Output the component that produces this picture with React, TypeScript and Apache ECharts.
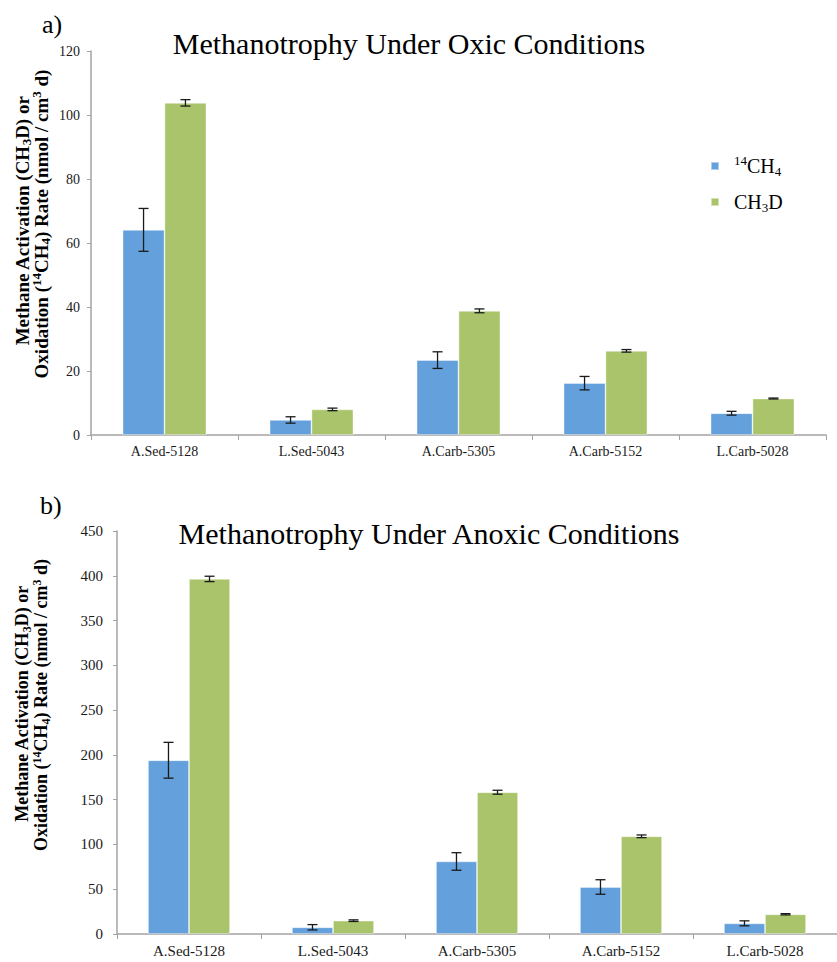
import React, { useEffect, useRef } from 'react';
import * as echarts from 'echarts';

const FONT = "'Liberation Serif', 'Times New Roman', serif";

const categories = ['A.Sed-5128', 'L.Sed-5043', 'A.Carb-5305', 'A.Carb-5152', 'L.Carb-5028'];
const seriesNames = ['14CH4', 'CH3D'];

// Panel a) oxic
const oxic14CH4 = [64.1, 4.7, 23.4, 16.2, 6.8];
const oxic14CH4Err = [6.7, 1.0, 2.6, 2.1, 0.6];
const oxicCH3D = [103.8, 8.0, 38.8, 26.3, 11.4];
const oxicCH3DErr = [1.0, 0.4, 0.6, 0.4, 0.15];

// Panel b) anoxic
const anoxic14CH4 = [194, 7.5, 81, 52.5, 11.9];
const anoxic14CH4Err = [20, 3.0, 9.8, 8.1, 2.8];
const anoxicCH3D = [396.5, 14.9, 158.3, 109.1, 22.0];
const anoxicCH3DErr = [3.0, 0.9, 2.2, 1.5, 0.7];

const oxicTicks = { min: 0, max: 120, interval: 20 };
const anoxicTicks = { min: 0, max: 450, interval: 50 };

const GAP = 0.43;
const BLUE = '#63a0dc';
const GREEN = '#a9c46a';
const AXIS = '#a3a3a3';

const makeErr = (side: number) => (params: any, api: any) => {
  const ci = api.value(0);
  const v = api.value(1);
  const e = api.value(2);
  const c = api.coord([ci, v]);
  const band = api.size([1, 0])[0];
  const bw = (band * (1 - GAP)) / 2;
  const x = c[0] + (side * bw) / 2;
  const yt = api.coord([ci, v + e])[1];
  const yb = api.coord([ci, v - e])[1];
  const cap = 5;
  const style = { stroke: '#1a1a1a', lineWidth: 1.3 };
  return {
    type: 'group',
    children: [
      { type: 'line', shape: { x1: x, y1: yt, x2: x, y2: yb }, style },
      { type: 'line', shape: { x1: x - cap, y1: yt, x2: x + cap, y2: yt }, style },
      { type: 'line', shape: { x1: x - cap, y1: yb, x2: x + cap, y2: yb }, style },
    ],
  };
};

const richY = (fs: number) => ({
  n: { fontFamily: FONT, fontSize: fs, fontWeight: 'bold', lineHeight: fs + 3, fill: '#000' },
  sub: { fontFamily: FONT, fontSize: Math.round(fs * 0.66), fontWeight: 'bold', lineHeight: Math.round(fs * 0.66), verticalAlign: 'bottom', fill: '#000' },
  sup: { fontFamily: FONT, fontSize: Math.round(fs * 0.66), fontWeight: 'bold', lineHeight: Math.round(fs * 0.66), verticalAlign: 'top', fill: '#000' },
});

const yLine1 = '{n|Methane Activation (CH}{sub|3}{n|D) or}';
const yLine2 = '{n|Oxidation (}{sup|14}{n|CH}{sub|4}{n|) Rate (nmol / cm}{sup|3}{n| d)}';

const yNameText = (text: string, x: number, y: number, fs: number) => ({
  type: 'text',
  x,
  y,
  rotation: Math.PI / 2,
  style: { text, rich: richY(fs), textAlign: 'center', textVerticalAlign: 'middle' },
});

export default function App() {
  const ref = useRef<HTMLDivElement>(null);
  useEffect(() => {
    const chart = echarts.init(ref.current!, null, { renderer: 'svg' });
    const xAxisCommon = {
      type: 'category',
      data: categories,
      axisLine: { lineStyle: { color: AXIS, width: 1.5 } },
      axisTick: { show: true, length: 5, lineStyle: { color: AXIS } },
      axisLabel: { fontFamily: FONT, color: '#1a1a1a', margin: 9 },
    };
    const yAxisCommon = {
      type: 'value',
      axisLine: { show: true, lineStyle: { color: AXIS, width: 1.5 } },
      axisTick: { show: true, length: 4, lineStyle: { color: AXIS } },
      splitLine: { show: false },
      axisLabel: { fontFamily: FONT, color: '#1a1a1a' },
    };
    const barCommon = {
      type: 'bar',
      barGap: '0%',
      barCategoryGap: GAP * 100 + '%',
    };
    const barStyle = (color: string) => ({ color, borderColor: 'rgba(255,255,255,0.5)', borderWidth: 0.8 });
    const option: any = {
      animation: false,
      backgroundColor: '#fff',
      legend: {
        data: seriesNames,
        orient: 'vertical',
        left: 705,
        top: 149,
        itemWidth: 8,
        itemHeight: 8,
        itemGap: 14,
        icon: 'rect',
        formatter: (name: string) =>
          name === '14CH4' ? '{sup|14}{n|CH}{sub|4}' : '{n|CH}{sub|3}{n|D}',
        textStyle: {
          padding: [0, 0, 0, 10],
          rich: {
            n: { fontFamily: FONT, fontSize: 20, lineHeight: 24, color: '#000' },
            sub: { fontFamily: FONT, fontSize: 13, lineHeight: 13, verticalAlign: 'bottom', color: '#000' },
            sup: { fontFamily: FONT, fontSize: 13, lineHeight: 13, verticalAlign: 'top', color: '#000' },
          },
        },
      },
      grid: [
        { left: 91, top: 51, right: 11, bottom: 962 - 435 },
        { left: 117, top: 531, right: -6.5, bottom: 962 - 934 },
      ],
      xAxis: [
        { ...xAxisCommon, gridIndex: 0, axisLabel: { ...xAxisCommon.axisLabel, fontSize: 14 } },
        { ...xAxisCommon, gridIndex: 1, axisLabel: { ...xAxisCommon.axisLabel, fontSize: 15 } },
      ],
      yAxis: [
        { ...yAxisCommon, gridIndex: 0, ...oxicTicks, axisLabel: { ...yAxisCommon.axisLabel, fontSize: 14, margin: 11 } },
        { ...yAxisCommon, gridIndex: 1, ...anoxicTicks, axisLabel: { ...yAxisCommon.axisLabel, fontSize: 15, margin: 14 } },
      ],
      series: [
        { ...barCommon, name: '14CH4', xAxisIndex: 0, yAxisIndex: 0, data: oxic14CH4, itemStyle: barStyle(BLUE) },
        { ...barCommon, name: 'CH3D', xAxisIndex: 0, yAxisIndex: 0, data: oxicCH3D, itemStyle: barStyle(GREEN) },
        { ...barCommon, name: '14CH4', xAxisIndex: 1, yAxisIndex: 1, data: anoxic14CH4, itemStyle: barStyle(BLUE) },
        { ...barCommon, name: 'CH3D', xAxisIndex: 1, yAxisIndex: 1, data: anoxicCH3D, itemStyle: barStyle(GREEN) },
        {
          type: 'custom', xAxisIndex: 0, yAxisIndex: 0, z: 5, renderItem: makeErr(-1),
          data: categories.map((_, i) => [i, oxic14CH4[i], oxic14CH4Err[i]]),
        },
        {
          type: 'custom', xAxisIndex: 0, yAxisIndex: 0, z: 5, renderItem: makeErr(1),
          data: categories.map((_, i) => [i, oxicCH3D[i], oxicCH3DErr[i]]),
        },
        {
          type: 'custom', xAxisIndex: 1, yAxisIndex: 1, z: 5, renderItem: makeErr(-1),
          data: categories.map((_, i) => [i, anoxic14CH4[i], anoxic14CH4Err[i]]),
        },
        {
          type: 'custom', xAxisIndex: 1, yAxisIndex: 1, z: 5, renderItem: makeErr(1),
          data: categories.map((_, i) => [i, anoxicCH3D[i], anoxicCH3DErr[i]]),
        },
      ],
      graphic: [
        { type: 'text', x: 42, y: 24, style: { text: 'a)', font: '26px ' + FONT, fill: '#000', textAlign: 'left', textVerticalAlign: 'middle' } },
        { type: 'text', x: 40, y: 505, style: { text: 'b)', font: '26px ' + FONT, fill: '#000', textAlign: 'left', textVerticalAlign: 'middle' } },
        { type: 'text', x: 409, y: 43, style: { text: 'Methanotrophy Under Oxic Conditions', font: '30px ' + FONT, fill: '#000', textAlign: 'center', textVerticalAlign: 'middle' } },
        { type: 'text', x: 429, y: 533, style: { text: 'Methanotrophy Under Anoxic Conditions', font: '30px ' + FONT, fill: '#000', textAlign: 'center', textVerticalAlign: 'middle' } },
        yNameText(yLine1, 22, 221, 19),
        yNameText(yLine2, 41, 224, 19),
        yNameText(yLine1, 22, 704, 18),
        yNameText(yLine2, 41, 705, 18),
      ],
    };
    chart.setOption(option);
    return () => chart.dispose();
  }, []);
  return (
    <div
      ref={ref}
      style={{ position: 'fixed', left: 0, top: 0, width: 837, height: 962, background: '#fff' }}
    />
  );
}
